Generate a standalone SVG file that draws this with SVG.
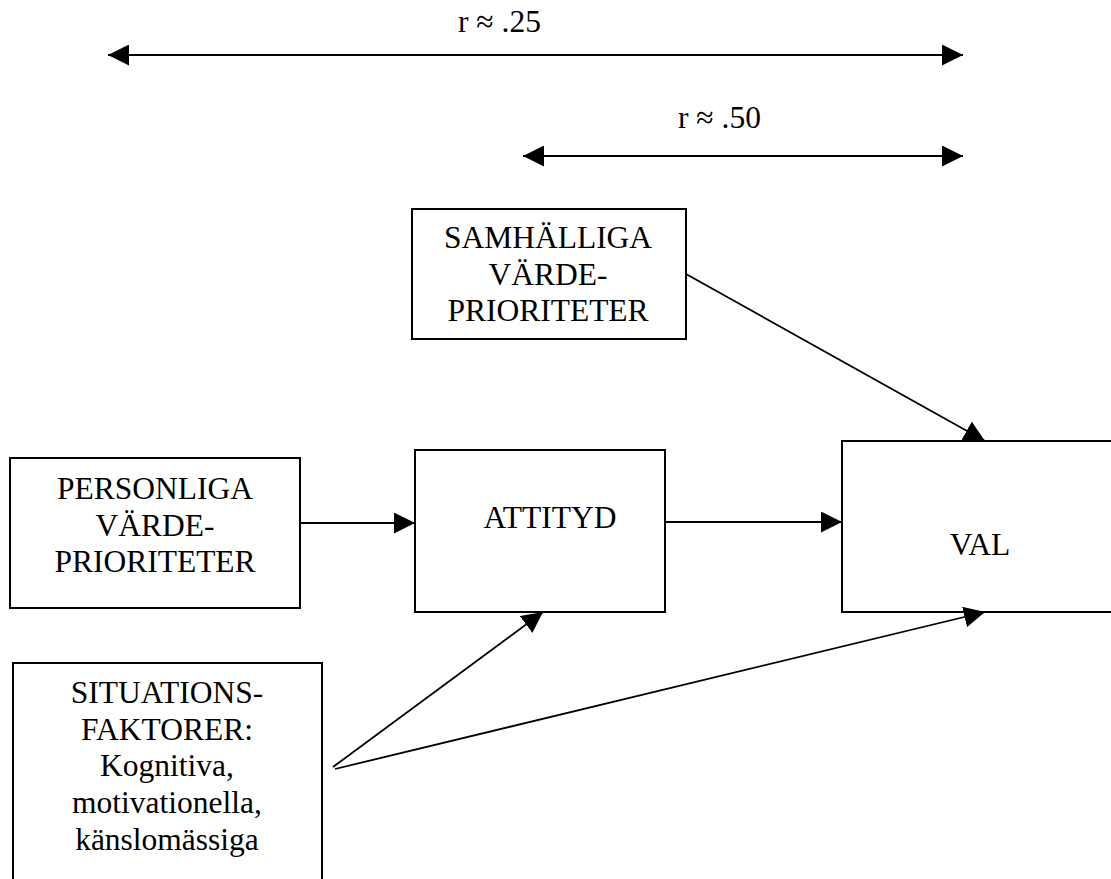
<svg xmlns="http://www.w3.org/2000/svg" width="1111" height="879" viewBox="0 0 1111 879">
<style>
.box{fill:#fff;stroke:#000;stroke-width:2}
.lbl{font-family:"Liberation Serif","Times New Roman",serif;font-size:31.5px;fill:#000;text-anchor:middle}
.rl{font-family:"Liberation Serif","Times New Roman",serif;font-size:31.5px;fill:#000}
.con{stroke:#000;stroke-width:1.8;fill:none}
</style>
<defs>
<marker id="ah" markerUnits="userSpaceOnUse" markerWidth="21" markerHeight="21" refX="20" refY="10" orient="auto-start-reverse" viewBox="0 0 20 20">
<path d="M0,0 L20,10 L0,20 z" fill="#000"/>
</marker>
</defs>
<rect width="1111" height="879" fill="#fff"/>
<g id="labels">
<text class="rl" x="458" y="32">r ≈ .25</text>
<text class="rl" x="678" y="128">r ≈ .50</text>
</g>
<g id="samhalliga">
<rect class="box" x="412" y="209" width="274" height="130"/>
<text class="lbl" x="548" y="248">SAMHÄLLIGA</text>
<text class="lbl" x="548" y="284.5">VÄRDE-</text>
<text class="lbl" x="548" y="321">PRIORITETER</text>
</g>
<g id="personliga">
<rect class="box" x="10" y="458" width="290" height="150"/>
<text class="lbl" x="155" y="499">PERSONLIGA</text>
<text class="lbl" x="155" y="535.5">VÄRDE-</text>
<text class="lbl" x="155" y="572">PRIORITETER</text>
</g>
<g id="attityd">
<rect class="box" x="415" y="450" width="250" height="162"/>
<text class="lbl" x="550" y="528">ATTITYD</text>
</g>
<g id="val">
<rect class="box" x="842" y="441" width="275" height="171"/>
<text class="lbl" x="980" y="555">VAL</text>
</g>
<g id="situations">
<rect class="box" x="13" y="663" width="309" height="230"/>
<text class="lbl" x="167" y="703">SITUATIONS-</text>
<text class="lbl" x="167" y="739.5">FAKTORER:</text>
<text class="lbl" x="167" y="776">Kognitiva,</text>
<text class="lbl" x="167" y="813">motivationella,</text>
<text class="lbl" x="167" y="850">känslomässiga</text>
</g>
<g id="connectors">
<line class="con" x1="108" y1="55" x2="963" y2="55" marker-start="url(#ah)" marker-end="url(#ah)"/>
<line class="con" x1="523" y1="156" x2="963" y2="156" marker-start="url(#ah)" marker-end="url(#ah)"/>
<line class="con" x1="686" y1="274" x2="985" y2="441" marker-end="url(#ah)"/>
<line class="con" x1="300" y1="523" x2="415" y2="523" marker-end="url(#ah)"/>
<line class="con" x1="665" y1="522" x2="842" y2="522" marker-end="url(#ah)"/>
<line class="con" x1="333" y1="767" x2="543" y2="612" marker-end="url(#ah)"/>
<line class="con" x1="335" y1="769" x2="985" y2="612" marker-end="url(#ah)"/>
</g>
</svg>
